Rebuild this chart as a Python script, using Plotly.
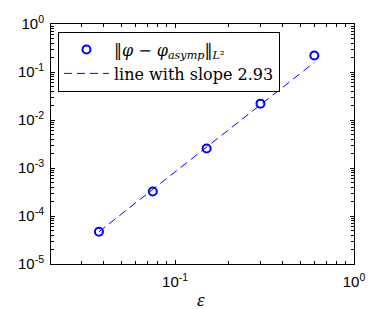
import plotly.graph_objects as go

# data
eps_vals = [0.0375, 0.075, 0.15, 0.3, 0.6]
err_vals = [4.7e-5, 3.24e-4, 2.54e-3, 2.19e-2, 2.21e-1]
line_x = [0.0375, 0.6]
line_y = [4.7e-5, 1.58e-1]

x_tickvals = [0.1, 1]
x_ticktext = ["10<sup>-1</sup>", "10<sup>0</sup>"]
y_tickvals = [1e-5, 1e-4, 1e-3, 1e-2, 1e-1, 1]
y_ticktext = ["10<sup>-5</sup>", "10<sup>-4</sup>", "10<sup>-3</sup>",
              "10<sup>-2</sup>", "10<sup>-1</sup>", "10<sup>0</sup>"]

series_name = "‖<i>φ</i> − <i>φ</i><sub><i>asymp</i></sub>‖<sub><i>L</i>²</sub>"
line_name = "line with slope 2.93"
x_title = "<i>ε</i>"

fig = go.Figure()
fig.add_trace(go.Scatter(
    x=eps_vals, y=err_vals, mode="markers", name=series_name,
    marker=dict(symbol="circle-open", size=8, color="#0000ff",
                line=dict(width=2, color="#0000ff")),
))
fig.add_trace(go.Scatter(
    x=line_x, y=line_y, mode="lines", name=line_name,
    line=dict(color="#0000ff", width=1, dash="8px,5px"),
))

axis_common = dict(
    type="log", showgrid=False, zeroline=False, automargin=False,
    showline=True, linecolor="black", linewidth=1, mirror="ticks",
    ticks="inside", ticklen=4, tickcolor="black", tickwidth=1,
    tickfont=dict(family="Liberation Sans, Arial", size=15, color="black"),
    minor=dict(ticks="inside", ticklen=3, tickcolor="black", showgrid=False,
               dtick="D1"),
)

fig.update_xaxes(range=[-1.694, 0], tickmode="array", tickvals=x_tickvals,
                 ticktext=x_ticktext, ticklabelstandoff=4, **axis_common)
fig.update_yaxes(range=[-5, 0], tickmode="array", tickvals=y_tickvals,
                 ticktext=y_ticktext, ticklabelstandoff=3, **axis_common)

fig.add_annotation(text=x_title, xref="paper", yref="paper", x=0.495, y=-0.148,
                   xanchor="center", yanchor="middle", showarrow=False,
                   font=dict(family="Liberation Serif", size=19, color="black"))

fig.update_layout(
    width=383, height=301,
    margin=dict(l=43, r=37, t=16, b=44.5),
    paper_bgcolor="white", plot_bgcolor="white",
    showlegend=True,
    legend=dict(x=0.023, y=0.968, xanchor="left", yanchor="top",
                bgcolor="white", bordercolor="black", borderwidth=1,
                font=dict(family="DejaVu Serif", size=16, color="black"),
                itemwidth=45, tracegroupgap=0),
)

fig.write_html("out.html")
